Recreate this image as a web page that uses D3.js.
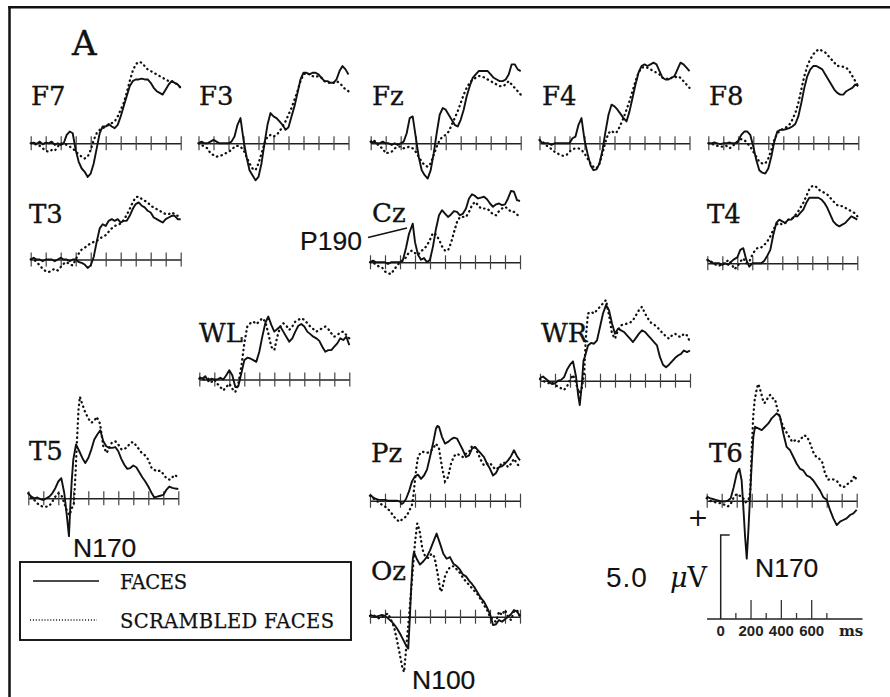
<!DOCTYPE html>
<html>
<head>
<meta charset="utf-8">
<script src="https://cdn.jsdelivr.net/npm/d3@7"></script>
<style>
  body { margin: 0; background: #fff; }
  svg { display: block; }
</style>
</head>
<body>
<svg id="chart" width="890" height="697"></svg>
<script>
// Grand-average ERPs, faces vs scrambled faces. Each series is [ms, µV].

const F7_faces = [[-100,0],[-80,0.04],[-60,-0.04],[-40,0.1],[-20,-0.06],[0,0.04],[20,0],[40,0.1],[60,-0.1],[80,0],[100,-0.1],[120,0],[140,0.5],[160,0.7],[180,0.6],[200,-0.4],[220,-1.1],[240,-1.5],[260,-1.7],[280,-2.0],[300,-1.8],[320,-1.2],[340,-0.3],[360,0.6],[380,1.0],[400,1.0],[420,1.15],[440,1.0],[460,0.9],[480,1.1],[500,1.6],[520,2.2],[540,2.8],[560,3.4],[580,3.7],[600,3.8],[620,3.8],[640,3.85],[660,3.8],[680,3.8],[700,3.6],[720,3.3],[740,3.1],[760,3.0],[780,2.9],[800,3.2],[820,3.5],[840,3.7],[860,3.6],[880,3.5],[900,3.3]];
const F7_scrambled = [[-100,0],[-80,0],[-60,-0.1],[-40,-0.15],[-20,-0.3],[0,-0.45],[20,-0.5],[40,-0.4],[60,-0.45],[80,-0.2],[100,0],[120,0],[140,-0.1],[160,-0.2],[180,-0.3],[200,-0.5],[220,-0.65],[240,-0.8],[260,-0.9],[280,-0.8],[300,-0.4],[320,0.2],[340,0.6],[360,0.8],[380,0.9],[400,1.0],[420,1.1],[440,1.2],[460,1.3],[480,1.6],[500,2.0],[520,2.4],[540,3.0],[560,3.7],[580,4.3],[600,4.7],[620,4.85],[640,4.8],[660,4.6],[680,4.4],[700,4.3],[720,4.2],[740,4.1],[760,4.0],[780,3.9],[800,3.8],[820,3.7],[840,3.7],[860,3.6],[880,3.5],[900,3.3]];

const F3_faces = [[-100,0],[-80,0.1],[-60,0],[-40,0],[-20,0.1],[0,0.2],[20,0.1],[40,0],[60,0],[80,0],[100,0],[120,0.1],[140,0.4],[160,1.1],[180,1.5],[200,0.2],[220,-0.8],[240,-1.6],[260,-1.9],[280,-2.2],[300,-2.0],[320,-1.2],[340,0],[360,1.1],[380,1.8],[400,1.6],[420,1.5],[440,1.3],[460,1.1],[480,0.8],[500,0.95],[520,1.6],[540,2.2],[560,3.0],[580,3.8],[600,4.2],[620,4.2],[640,4.1],[660,4.2],[680,4.2],[700,4.1],[720,3.9],[740,3.7],[760,3.7],[780,3.6],[800,3.6],[820,3.8],[840,4.3],[860,4.6],[880,4.4],[900,4.1]];
const F3_scrambled = [[-100,0],[-80,-0.1],[-60,-0.2],[-40,-0.3],[-20,-0.6],[0,-0.7],[20,-0.8],[40,-0.75],[60,-0.7],[80,-0.6],[100,-0.5],[120,-0.4],[140,-0.2],[160,-0.15],[180,-0.2],[200,-0.4],[220,-0.8],[240,-1.2],[260,-1.5],[280,-1.6],[300,-1.2],[320,-0.6],[340,0],[360,0.4],[380,0.5],[400,0.4],[420,0.5],[440,0.7],[460,1.0],[480,1.3],[500,1.7],[520,2.1],[540,2.6],[560,3.1],[580,3.7],[600,4.1],[620,4.2],[640,4.1],[660,4.0],[680,3.95],[700,4.0],[720,3.9],[740,3.7],[760,3.6],[780,3.6],[800,3.6],[820,3.7],[840,3.6],[860,3.4],[880,3.2],[900,3.1]];

const Fz_faces = [[-100,0],[-80,0.1],[-60,0],[-40,0],[-20,0.1],[0,0],[20,0],[40,-0.1],[60,0],[80,-0.1],[100,0],[120,0.1],[140,0.6],[160,1.5],[180,1.6],[200,0.4],[220,-0.8],[240,-1.6],[260,-1.9],[280,-2.1],[300,-1.6],[320,-0.6],[340,0.6],[360,1.7],[380,2.1],[400,2.0],[420,1.7],[440,1.4],[460,1.1],[480,1.0],[500,1.4],[520,2.0],[540,2.8],[560,3.4],[580,3.9],[600,4.1],[620,4.3],[640,4.3],[660,4.3],[680,4.3],[700,4.1],[720,3.9],[740,3.8],[760,3.7],[780,3.7],[800,3.8],[820,4.1],[840,4.7],[860,4.7],[880,4.4],[900,4.3]];
const Fz_scrambled = [[-100,0.1],[-80,0.2],[-60,0],[-40,-0.2],[-20,-0.3],[0,-0.6],[20,-0.55],[40,-0.5],[60,-0.3],[80,-0.2],[100,-0.2],[120,-0.3],[140,-0.25],[160,-0.2],[180,-0.3],[200,-0.5],[220,-0.8],[240,-1.1],[260,-1.3],[280,-1.4],[300,-1.2],[320,-0.7],[340,-0.2],[360,0.2],[380,0.4],[400,0.5],[420,0.7],[440,1.1],[460,1.5],[480,1.9],[500,2.4],[520,2.9],[540,3.3],[560,3.6],[580,3.8],[600,3.9],[620,4.0],[640,4.0],[660,3.9],[680,3.8],[700,3.7],[720,3.6],[740,3.5],[760,3.4],[780,3.4],[800,3.5],[820,3.7],[840,3.5],[860,3.3],[880,3.1],[900,2.9]];

const F4_faces = [[-100,0.2],[-80,0],[-60,0],[-40,0],[-20,-0.1],[0,0],[20,0],[40,0],[60,0],[80,0],[100,0],[120,0.3],[140,0.4],[160,1.1],[180,1.5],[200,0.2],[220,-0.6],[240,-1.3],[260,-1.6],[280,-1.55],[300,-1.2],[320,-0.4],[340,0.7],[360,1.7],[380,2.3],[400,2.2],[420,2.0],[440,1.75],[460,1.5],[480,1.3],[500,1.9],[520,2.7],[540,3.5],[560,4.2],[580,4.6],[600,4.7],[620,4.6],[640,4.7],[660,4.8],[680,4.7],[700,4.3],[720,3.9],[740,3.8],[760,3.8],[780,3.9],[800,4.0],[820,4.4],[840,4.8],[860,4.7],[880,4.5],[900,4.3]];
const F4_scrambled = [[-100,0.2],[-80,0.1],[-60,-0.1],[-40,-0.2],[-20,-0.35],[0,-0.5],[20,-0.6],[40,-0.7],[60,-0.75],[80,-0.7],[100,-0.5],[120,-0.35],[140,-0.3],[160,-0.3],[180,-0.4],[200,-0.6],[220,-0.9],[240,-1.2],[260,-1.4],[280,-1.5],[300,-1.2],[320,-0.6],[340,0.1],[360,0.6],[380,0.75],[400,0.6],[420,0.7],[440,1.1],[460,1.5],[480,2.0],[500,2.5],[520,3.1],[540,3.7],[560,4.2],[580,4.5],[600,4.55],[620,4.5],[640,4.4],[660,4.3],[680,4.2],[700,4.1],[720,3.9],[740,3.9],[760,3.8],[780,3.9],[800,3.9],[820,4.0],[840,3.9],[860,3.7],[880,3.5],[900,3.3]];

const F8_faces = [[-100,0],[-80,0],[-60,0.05],[-40,0],[-20,-0.05],[0,0],[20,0],[40,0.05],[60,0],[80,0],[100,0.15],[120,0.5],[140,0.7],[160,0.7],[180,0.5],[200,-0.2],[220,-1.0],[240,-1.6],[260,-1.75],[280,-1.8],[300,-1.5],[320,-0.8],[340,0.1],[360,0.7],[380,0.8],[400,0.8],[420,0.85],[440,0.9],[460,1.0],[480,1.15],[500,1.6],[520,2.4],[540,3.3],[560,4.0],[580,4.4],[600,4.6],[620,4.6],[640,4.5],[660,4.4],[680,4.1],[700,3.8],[720,3.5],[740,3.2],[760,3.0],[780,2.9],[800,2.9],[820,3.1],[840,3.2],[860,3.3],[880,3.5],[900,3.4]];
const F8_scrambled = [[-100,0],[-80,0],[-60,-0.1],[-40,-0.15],[-20,-0.2],[0,-0.2],[20,-0.15],[40,-0.3],[60,-0.2],[80,0],[100,0.1],[120,0.25],[140,0.2],[160,0],[180,-0.2],[200,-0.5],[220,-0.8],[240,-1.1],[260,-1.2],[280,-1.2],[300,-0.9],[320,-0.4],[340,0.2],[360,0.6],[380,0.75],[400,0.9],[420,0.95],[440,1.1],[460,1.4],[480,1.8],[500,2.4],[520,3.2],[540,4.0],[560,4.6],[580,5.0],[600,5.3],[620,5.5],[640,5.6],[660,5.5],[680,5.4],[700,5.2],[720,5.0],[740,4.8],[760,4.6],[780,4.6],[800,4.55],[820,4.5],[840,4.3],[860,4.0],[880,3.7],[900,3.4]];

const T3_faces = [[-100,0],[-80,0.1],[-60,0],[-40,0],[-20,-0.1],[0,0],[20,0],[40,0],[60,-0.1],[80,0],[100,0.1],[120,0],[140,0],[160,-0.1],[180,0],[200,0],[220,-0.15],[240,-0.2],[260,-0.3],[280,-0.5],[300,-0.35],[320,0.15],[340,1.05],[360,1.85],[380,2.1],[400,2.0],[420,2.3],[440,2.4],[460,2.3],[480,2.4],[500,2.2],[520,2.3],[540,2.3],[560,2.6],[580,3.0],[600,3.3],[620,3.4],[640,3.2],[660,3.1],[680,2.9],[700,2.8],[720,2.5],[740,2.4],[760,2.3],[780,2.2],[800,2.4],[820,2.5],[840,2.6],[860,2.6],[880,2.4],[900,2.4]];
const T3_scrambled = [[-100,0],[-80,0],[-60,-0.15],[-40,-0.35],[-20,-0.55],[0,-0.7],[20,-0.75],[40,-0.65],[60,-0.55],[80,-0.65],[100,-0.45],[120,-0.25],[140,-0.15],[160,-0.3],[180,-0.35],[200,0],[220,0.35],[240,0.6],[260,0.7],[280,0.85],[300,0.95],[320,1.05],[340,1.1],[360,1.25],[380,1.35],[400,1.45],[420,1.65],[440,1.85],[460,2.0],[480,2.05],[500,2.15],[520,2.35],[540,2.65],[560,3.0],[580,3.4],[600,3.7],[620,3.75],[640,3.6],[660,3.5],[680,3.4],[700,3.2],[720,3.1],[740,3.0],[760,2.9],[780,2.8],[800,2.7],[820,2.7],[840,2.8],[860,2.7],[880,2.6],[900,2.5]];

const Cz_faces = [[-100,0],[-80,0.1],[-60,0],[-40,0],[-20,0],[0,0],[20,-0.1],[40,0],[60,0],[80,0],[100,0],[120,0.15],[140,0.85],[160,1.7],[185,2.3],[200,1.2],[220,0.45],[240,0.15],[260,0.25],[280,0],[300,0.15],[320,0.95],[340,2.0],[360,2.8],[380,3.1],[400,2.9],[420,2.7],[440,2.85],[460,3.05],[480,3.0],[500,2.8],[520,2.9],[540,3.2],[560,3.8],[580,4.05],[600,3.95],[620,3.8],[640,3.85],[660,3.9],[680,3.75],[700,3.5],[720,3.3],[740,3.45],[760,3.5],[780,3.4],[800,3.45],[820,3.8],[840,4.25],[860,4.2],[880,3.7],[900,3.65]];
const Cz_scrambled = [[-100,0],[-80,0],[-60,-0.15],[-40,-0.25],[-20,-0.3],[0,-0.55],[20,-0.65],[40,-0.7],[60,-0.45],[80,-0.2],[100,0],[120,0.1],[140,0.3],[160,0.6],[180,0.7],[200,0.55],[220,0.45],[240,0.65],[260,0.8],[280,1.0],[300,1.35],[320,1.75],[340,1.65],[360,1.35],[380,0.95],[400,0.7],[420,0.7],[440,1.15],[460,1.8],[480,2.4],[500,2.7],[520,2.7],[540,2.7],[560,3.0],[580,3.4],[600,3.6],[620,3.4],[640,3.2],[660,3.2],[680,3.2],[700,3.05],[720,2.85],[740,2.8],[760,3.05],[780,3.2],[800,3.3],[820,3.2],[840,3.0],[860,3.0],[880,2.85],[900,2.65]];

const T4_faces = [[-100,0.2],[-80,0.1],[-60,0],[-40,0],[-20,0],[0,-0.1],[20,0],[40,-0.1],[60,0.1],[80,0.25],[100,0.35],[120,0.8],[140,0.9],[160,0.2],[180,-0.2],[200,0],[220,0],[240,0],[260,0],[280,0.15],[300,0.45],[320,0.8],[340,1.7],[360,2.4],[380,2.6],[400,2.5],[420,2.4],[440,2.6],[460,2.6],[480,2.8],[500,2.8],[520,3.0],[540,3.2],[560,3.6],[580,3.9],[600,3.9],[620,3.9],[640,3.9],[660,3.8],[680,3.6],[700,3.3],[720,2.9],[740,2.5],[760,2.3],[780,2.2],[800,2.3],[820,2.4],[840,2.6],[860,2.8],[880,2.7],[900,2.6]];
const T4_scrambled = [[-100,0.2],[-80,0.15],[-60,0],[-40,-0.1],[-20,-0.15],[0,0],[20,0],[40,0.2],[60,0],[80,-0.35],[100,-0.2],[120,0.1],[140,0.3],[160,0],[180,0.1],[200,0.5],[220,0.8],[240,0.95],[260,0.95],[280,1.1],[300,1.3],[320,1.6],[340,2.0],[360,2.3],[380,2.4],[400,2.3],[420,2.4],[440,2.6],[460,2.6],[480,2.8],[500,3.0],[520,3.3],[540,3.6],[560,4.0],[580,4.4],[600,4.6],[620,4.6],[640,4.4],[660,4.3],[680,4.2],[700,4.1],[720,3.9],[740,3.7],[760,3.5],[780,3.4],[800,3.4],[820,3.3],[840,3.2],[860,3.1],[880,3.0],[900,2.8]];

const WL_faces = [[-100,0.15],[-80,0.05],[-60,0.2],[-40,-0.1],[-20,0.05],[0,0],[20,0],[40,0.1],[60,0],[80,0.25],[100,0.55],[120,0.25],[140,-0.45],[160,-0.4],[180,0.35],[200,1.15],[220,1.3],[240,1.25],[260,1.15],[280,1.05],[300,1.65],[320,2.55],[340,3.35],[360,3.75],[380,3.25],[400,2.85],[420,3.0],[440,3.15],[460,2.85],[480,2.55],[500,2.25],[520,2.45],[540,2.85],[560,3.2],[580,3.3],[600,3.15],[620,2.85],[640,2.7],[660,2.55],[680,2.45],[700,2.3],[720,1.95],[740,1.65],[760,1.75],[780,1.75],[800,1.95],[820,2.15],[840,2.45],[860,2.35],[880,2.55],[900,2.05]];
const WL_scrambled = [[-100,0.05],[-80,0],[-60,0],[-40,0.05],[-20,-0.15],[0,0],[20,-0.25],[40,-0.45],[60,-0.65],[80,-0.45],[100,-0.25],[120,-0.55],[140,-0.75],[160,-0.25],[180,0.75],[200,2.15],[220,3.15],[240,3.35],[260,3.45],[280,3.3],[300,3.45],[320,3.65],[340,3.45],[360,2.75],[380,1.95],[400,1.75],[420,2.55],[440,3.15],[460,3.35],[480,3.2],[500,2.95],[520,3.15],[540,3.45],[560,3.55],[580,3.65],[600,3.55],[620,3.35],[640,3.15],[660,3.0],[680,2.85],[700,2.95],[720,3.05],[740,3.15],[760,3.0],[780,2.75],[800,2.55],[820,2.65],[840,2.8],[860,2.85],[880,2.65],[900,2.45]];

const WR_faces = [[-100,0.15],[-80,0.25],[-60,0.1],[-40,-0.05],[-20,-0.2],[0,-0.15],[20,0],[40,0.05],[60,0.2],[80,0.65],[100,0.95],[120,1.15],[140,0.25],[155,-0.9],[165,-1.45],[178,-0.3],[190,1.2],[200,1.45],[220,2.1],[240,2.25],[260,2.2],[280,2.4],[300,3.2],[320,4.0],[340,4.5],[360,4.2],[380,3.4],[400,2.8],[420,3.1],[440,3.0],[460,2.9],[480,2.7],[500,2.5],[520,2.3],[540,2.55],[560,2.8],[580,3.0],[600,2.9],[620,2.7],[640,2.5],[660,2.3],[680,2.1],[700,1.4],[720,0.95],[740,0.8],[760,0.95],[780,1.15],[800,1.35],[820,1.5],[840,1.6],[860,1.8],[880,1.7],[900,1.8]];
const WR_scrambled = [[-100,0.1],[-80,0],[-60,-0.1],[-40,-0.15],[-20,-0.1],[0,-0.25],[20,-0.35],[40,-0.45],[60,-0.55],[80,-0.35],[100,0.05],[120,0.35],[140,-0.15],[160,-0.75],[180,-0.4],[195,0.5],[205,2.5],[220,4.0],[240,4.1],[260,4.0],[280,4.2],[300,4.4],[320,4.6],[340,4.8],[360,3.9],[380,2.8],[400,2.5],[420,3.0],[440,3.3],[460,3.35],[480,3.4],[500,3.45],[520,3.6],[540,3.9],[560,4.2],[580,4.4],[600,4.0],[620,3.7],[640,3.45],[660,3.35],[680,3.2],[700,3.0],[720,2.8],[740,2.65],[760,2.5],[780,2.7],[800,2.8],[820,2.65],[840,2.6],[860,2.8],[880,2.7],[900,2.3]];

const T5_faces = [[-100,0.3],[-80,0.1],[-60,0],[-40,0.05],[-20,-0.05],[0,-0.1],[20,0],[40,0.1],[60,0.3],[80,0.6],[100,1.0],[120,1.2],[140,0.3],[160,-1.3],[171,-2.25],[180,-0.5],[190,1.1],[200,2.3],[218,3.2],[240,2.8],[260,2.4],[280,2.1],[300,2.4],[320,2.9],[340,3.5],[360,3.8],[380,4.05],[400,3.4],[420,3.1],[440,3.0],[460,3.0],[480,3.05],[500,2.8],[520,2.35],[540,2.0],[560,1.75],[580,1.8],[600,1.95],[620,1.85],[640,1.55],[660,1.25],[680,1.0],[700,0.7],[720,0.35],[740,0.05],[760,0.1],[780,0.15],[800,0.2],[820,0.5],[840,0.7],[860,0.62],[880,0.58],[900,0.55]];
const T5_scrambled = [[-100,0.3],[-80,0.05],[-60,-0.1],[-40,-0.3],[-20,-0.45],[0,-0.5],[20,-0.5],[40,-0.45],[60,-0.2],[80,0.1],[100,0.3],[120,0.2],[140,-0.3],[160,-0.8],[175,-1.0],[190,-0.6],[204,-0.3],[215,1.5],[225,3.5],[235,5.3],[244,6.05],[260,5.6],[278,5.15],[300,4.75],[320,4.5],[340,4.6],[356,4.85],[378,4.45],[400,3.1],[422,2.7],[440,3.0],[456,3.3],[480,3.4],[500,3.2],[522,2.9],[540,2.95],[556,3.0],[580,3.3],[600,3.35],[622,3.1],[640,2.9],[656,2.7],[680,2.55],[700,2.3],[722,1.8],[740,1.7],[756,1.6],[780,1.65],[800,1.45],[820,1.2],[844,1.1],[860,1.25],[878,1.4],[900,1.2]];

const Pz_faces = [[-100,0.35],[-80,0.2],[-60,0.1],[-40,0.05],[-20,0.05],[0,0.05],[20,0],[40,0],[60,0],[80,0],[100,-0.05],[111,-0.2],[120,-0.15],[140,0.1],[160,0.55],[180,1.15],[200,1.45],[220,1.55],[240,1.3],[260,1.5],[280,1.85],[300,2.6],[320,3.4],[340,4.3],[349,4.45],[360,4.4],[380,3.8],[400,3.4],[420,3.5],[440,3.65],[460,3.75],[480,3.7],[500,3.35],[520,3.0],[540,2.6],[560,2.7],[580,3.1],[600,3.2],[620,3.0],[640,2.8],[660,2.6],[680,2.2],[700,1.9],[720,1.5],[740,1.65],[760,2.0],[780,2.05],[800,2.2],[820,2.4],[840,2.65],[860,3.0],[880,2.65],[900,2.4]];
const Pz_scrambled = [[-100,0.3],[-80,0.15],[-60,0],[-40,-0.1],[-20,-0.25],[0,-0.35],[20,-0.5],[40,-0.7],[60,-0.95],[80,-1.15],[100,-1.25],[120,-1.05],[140,-0.95],[160,-0.65],[180,-0.25],[190,0.35],[200,1.25],[210,2.0],[220,2.6],[240,2.9],[260,2.9],[280,2.85],[300,2.9],[320,3.1],[340,3.4],[360,3.1],[380,2.0],[400,1.15],[420,1.4],[440,2.2],[460,2.65],[480,2.8],[500,2.7],[520,2.6],[540,2.8],[560,2.9],[580,3.25],[600,3.2],[620,2.8],[640,2.4],[660,2.1],[680,2.2],[700,2.25],[720,2.0],[740,1.85],[760,2.0],[780,2.25],[800,2.25],[820,2.0],[840,2.2],[860,2.5],[880,2.2],[900,2.0]];

const T6_faces = [[-100,0.25],[-80,0.15],[-60,0.1],[-40,0.05],[-20,0],[0,-0.05],[20,-0.05],[40,0],[60,0.15],[80,0.8],[100,1.6],[118,1.9],[133,1.2],[144,-0.35],[156,-2.15],[167,-3.45],[178,-1.75],[189,0.25],[200,2.2],[211,3.8],[222,4.4],[244,4.3],[267,4.2],[289,4.4],[311,4.6],[333,4.9],[367,5.2],[389,5.0],[411,4.0],[433,3.2],[456,3.0],[478,2.6],[500,2.2],[522,1.9],[544,1.8],[567,1.5],[589,1.4],[611,1.2],[633,0.9],[656,0.6],[678,0.2],[700,0.05],[722,-0.55],[744,-1.05],[767,-1.45],[789,-1.25],[811,-1.15],[833,-1.05],[856,-0.85],[878,-0.75],[900,-0.55]];
const T6_scrambled = [[-100,0.15],[-80,0],[-60,-0.05],[-40,-0.1],[-20,-0.15],[0,-0.15],[20,-0.25],[40,-0.35],[60,-0.2],[80,0.2],[100,0.4],[120,0.3],[140,0.2],[160,-0.1],[180,0.1],[190,0.5],[200,3.0],[210,5.0],[220,6.0],[235,6.7],[244,6.95],[260,6.5],[275,6.0],[285,5.8],[300,6.0],[315,6.25],[325,6.3],[340,6.1],[355,6.05],[370,5.5],[390,4.9],[410,4.4],[430,4.1],[450,3.8],[470,3.5],[490,3.6],[510,3.5],[530,3.7],[550,3.9],[570,3.8],[590,3.4],[610,2.9],[630,2.6],[650,2.5],[670,2.3],[690,1.6],[710,1.25],[730,1.3],[750,1.25],[770,1.15],[790,0.9],[810,0.8],[830,0.9],[850,1.1],[870,1.2],[885,1.5],[900,1.2]];

const Oz_faces = [[-100,0.1],[-80,0.05],[-60,0],[-40,0.05],[-20,0.1],[0,0.05],[20,-0.1],[40,-0.25],[60,-0.45],[80,-0.7],[100,-1.0],[120,-1.35],[140,-1.7],[155,-1.9],[165,-0.2],[175,1.8],[185,3.4],[193,3.85],[211,3.45],[233,3.1],[256,3.3],[278,3.55],[300,3.95],[322,4.45],[344,4.95],[367,4.35],[389,3.75],[411,3.45],[433,3.55],[456,3.15],[480,3.0],[500,2.8],[520,2.5],[540,2.4],[560,2.15],[580,1.95],[600,1.7],[620,1.4],[640,1.1],[660,0.9],[680,0.55],[700,0.15],[720,-0.5],[740,-0.45],[760,-0.2],[780,-0.3],[800,-0.15],[820,0],[840,0.15],[860,0.4],[880,0.3],[900,0.05]];
const Oz_scrambled = [[-100,0.05],[-80,0.1],[-60,0],[-40,-0.1],[-20,0],[0,0.1],[20,0.2],[40,-0.2],[60,-0.6],[80,-1.4],[100,-2.3],[115,-3.0],[127,-3.3],[140,-2.0],[160,0],[180,2.2],[200,4.4],[215,5.55],[230,5.15],[250,4.0],[270,3.55],[290,3.5],[310,3.75],[330,3.55],[350,2.6],[370,1.5],[380,1.6],[400,2.4],[420,2.8],[440,3.0],[460,3.0],[480,2.8],[500,2.6],[520,2.3],[540,2.1],[560,1.9],[580,1.7],[600,1.5],[620,1.3],[640,1.0],[660,0.7],[680,0.4],[700,0],[720,-0.2],[740,-0.3],[760,0.3],[780,0.1],[800,0.4],[820,0],[840,-0.2],[860,0.3],[880,0.4],[900,0]];

const channels = ["F7","F3","Fz","F4","F8","T3","Cz","T4","WL","WR","T5","Pz","T6","Oz"];
const conditions = ["FACES", "SCRAMBLED FACES"];
const epochTicks = [-100, 0, 100, 200, 300, 400, 500, 600, 700, 800, 900];
const scaleBarLabels = [0, 200, 400, 600];
const scaleBarMinorTicks = [100, 300, 500, 700];
const scaleBarMicroVolts = 5.0;

const facesByChannel = {F7:F7_faces, F3:F3_faces, Fz:Fz_faces, F4:F4_faces, F8:F8_faces, T3:T3_faces, Cz:Cz_faces, T4:T4_faces, WL:WL_faces, WR:WR_faces, T5:T5_faces, Pz:Pz_faces, T6:T6_faces, Oz:Oz_faces};
const scrambledByChannel = {F7:F7_scrambled, F3:F3_scrambled, Fz:Fz_scrambled, F4:F4_scrambled, F8:F8_scrambled, T3:T3_scrambled, Cz:Cz_scrambled, T4:T4_scrambled, WL:WL_scrambled, WR:WR_scrambled, T5:T5_scrambled, Pz:Pz_scrambled, T6:T6_scrambled, Oz:Oz_scrambled};

// Montage layout: left end of each baseline, baseline y, and channel-name anchor.
const layout = {
  F7: {x: 30.7,  y: 143.3, lx: 31,  ly: 104.5},
  F3: {x: 198.5, y: 143.3, lx: 199, ly: 104.5},
  Fz: {x: 370.7, y: 143.3, lx: 372, ly: 105},
  F4: {x: 539.5, y: 143.3, lx: 542, ly: 105},
  F8: {x: 708.3, y: 143.3, lx: 709, ly: 105},
  T3: {x: 30.7,  y: 259.5, lx: 29,  ly: 223},
  Cz: {x: 370,   y: 262.3, lx: 372, ly: 222},
  T4: {x: 707.3, y: 263.3, lx: 707, ly: 223},
  WL: {x: 199.3, y: 379.5, lx: 199, ly: 342},
  WR: {x: 540,   y: 380.7, lx: 541, ly: 342},
  T5: {x: 28.3,  y: 498.3, lx: 29,  ly: 460},
  Pz: {x: 370,   y: 500.7, lx: 371, ly: 462},
  T6: {x: 706.7, y: 500.7, lx: 709, ly: 462},
  Oz: {x: 370,   y: 616.7, lx: 371, ly: 580}
};
const PANEL_W = 150;        // px for -100..900 ms
const PX_PER_5UV = 84;      // px for 5 µV
const SERIF = "'DejaVu Serif', 'Liberation Serif', serif";
const SANS = "'Liberation Sans', Arial, Helvetica, sans-serif";

const svg = d3.select("#chart");

// outer frame (left and top rules)
svg.append("line").attr("x1", 9.5).attr("y1", 6).attr("x2", 9.5).attr("y2", 697)
  .attr("stroke", "#111").attr("stroke-width", 2.5);
svg.append("line").attr("x1", 8.3).attr("y1", 7.3).attr("x2", 890).attr("y2", 7.3)
  .attr("stroke", "#111").attr("stroke-width", 2.5);

svg.append("text").text("A").attr("x", 72).attr("y", 55)
  .attr("font-family", SERIF).attr("font-size", 34).attr("fill", "#111")
  .attr("stroke", "#111").attr("stroke-width", 0.4);

const line = d3.line().curve(d3.curveLinear);

channels.forEach(ch => {
  const p = layout[ch];
  const x = d3.scaleLinear().domain([-100, 900]).range([p.x, p.x + PANEL_W]);
  const y = d3.scaleLinear().domain([0, scaleBarMicroVolts]).range([p.y, p.y - PX_PER_5UV]);
  const g = svg.append("g").attr("class", "panel");

  // time axis with ticks crossing the baseline
  const axis = d3.axisBottom(x).tickValues(epochTicks).tickSize(7).tickSizeOuter(0).tickFormat("");
  g.append("g").attr("transform", `translate(0,${p.y})`).call(axis)
    .call(a => a.select(".domain").attr("stroke", "#222").attr("stroke-width", 1.5))
    .call(a => a.selectAll(".tick line").attr("y1", -7).attr("y2", 7)
      .attr("stroke", "#444").attr("stroke-width", 1.2));

  line.x(d => x(d[0])).y(d => y(d[1]));
  g.append("path").datum(scrambledByChannel[ch]).attr("d", line)
    .attr("fill", "none").attr("stroke", "#111").attr("stroke-width", 2.3)
    .attr("stroke-dasharray", "0.4 4.3").attr("stroke-linecap", "round");
  g.append("path").datum(facesByChannel[ch]).attr("d", line)
    .attr("fill", "none").attr("stroke", "#111").attr("stroke-width", 1.9)
    .attr("stroke-linejoin", "round");

  g.append("text").text(ch).attr("x", p.lx).attr("y", p.ly)
    .attr("font-family", SERIF).attr("font-size", 26).attr("fill", "#111")
    .attr("stroke", "#111").attr("stroke-width", 0.35);
});

// component labels
const compLabels = [
  {text: "P190", x: 300, y: 250},
  {text: "N170", x: 73,  y: 557},
  {text: "N100", x: 412, y: 689},
  {text: "N170", x: 755, y: 577}
];
svg.selectAll("text.comp").data(compLabels).join("text").attr("class", "comp")
  .attr("x", d => d.x).attr("y", d => d.y).text(d => d.text)
  .attr("font-family", SANS).attr("font-size", 26.5).attr("fill", "#111")
  .attr("stroke", "#111").attr("stroke-width", 0.2);
svg.append("line").attr("x1", 368).attr("y1", 237.5).attr("x2", 407).attr("y2", 228)
  .attr("stroke", "#111").attr("stroke-width", 1.4);

// legend
const lg = svg.append("g");
lg.append("rect").attr("x", 20).attr("y", 562).attr("width", 331).attr("height", 78)
  .attr("fill", "none").attr("stroke", "#111").attr("stroke-width", 1.9);
lg.append("line").attr("x1", 33).attr("x2", 99).attr("y1", 581).attr("y2", 581)
  .attr("stroke", "#111").attr("stroke-width", 1.5);
lg.append("line").attr("x1", 30).attr("x2", 97).attr("y1", 620).attr("y2", 620)
  .attr("stroke", "#111").attr("stroke-width", 1.5).attr("stroke-dasharray", "1 1.9");
lg.append("text").text(conditions[0]).attr("x", 120).attr("y", 588.5)
  .attr("font-family", SERIF).attr("font-size", 19.5).attr("fill", "#111")
  .attr("stroke", "#111").attr("stroke-width", 0.25)
  .attr("textLength", 67).attr("lengthAdjust", "spacing");
lg.append("text").text(conditions[1]).attr("x", 120).attr("y", 628)
  .attr("font-family", SERIF).attr("font-size", 19.5).attr("fill", "#111")
  .attr("stroke", "#111").attr("stroke-width", 0.25)
  .attr("textLength", 214).attr("lengthAdjust", "spacing");

// calibration: 5 µV by 0-600 ms
const sx = d3.scaleLinear().domain([0, 600]).range([720.7, 811.7]);
const sy = d3.scaleLinear().domain([0, scaleBarMicroVolts]).range([619, 619 - PX_PER_5UV]);
const sb = svg.append("g");
sb.append("line").attr("x1", sx(-90)).attr("x2", sx(935)).attr("y1", sy(0)).attr("y2", sy(0))
  .attr("stroke", "#222").attr("stroke-width", 1.5);
sb.append("path")
  .attr("d", `M${sx(0)},${sy(0)}V${sy(scaleBarMicroVolts)}h9`)
  .attr("fill", "none").attr("stroke", "#222").attr("stroke-width", 1.5);
sb.selectAll("line.major").data(scaleBarLabels.slice(1)).join("line").attr("class", "major")
  .attr("x1", d => sx(d)).attr("x2", d => sx(d)).attr("y1", sy(0)).attr("y2", sy(0) - 19)
  .attr("stroke", "#333").attr("stroke-width", 1.3);
sb.selectAll("line.minor").data(scaleBarMinorTicks).join("line").attr("class", "minor")
  .attr("x1", d => sx(d)).attr("x2", d => sx(d)).attr("y1", sy(0)).attr("y2", sy(0) - 6)
  .attr("stroke", "#333").attr("stroke-width", 1.3);
sb.selectAll("text.tl").data(scaleBarLabels).join("text").attr("class", "tl")
  .attr("x", d => sx(d)).attr("y", 635.5).attr("text-anchor", "middle").text(d => d)
  .attr("font-family", SANS).attr("font-weight", "bold").attr("font-size", 15).attr("fill", "#222");
sb.append("text").text("ms").attr("x", 839).attr("y", 635.5)
  .attr("font-family", SERIF).attr("font-weight", "bold").attr("font-size", 15).attr("fill", "#222");
sb.append("text").text(scaleBarMicroVolts.toFixed(1)).attr("x", 606).attr("y", 587)
  .attr("font-family", SANS).attr("font-size", 28).attr("fill", "#111")
  .attr("letter-spacing", 1);
const uv = sb.append("text").attr("x", 670).attr("y", 587)
  .attr("font-family", SERIF).attr("font-size", 27).attr("fill", "#111");
uv.append("tspan").text("μ").attr("font-style", "italic");
uv.append("tspan").text("V");
sb.append("text").text("+").attr("x", 698).attr("y", 526).attr("text-anchor", "middle")
  .attr("font-family", SERIF).attr("font-size", 25).attr("fill", "#111");
</script>
</body>
</html>
